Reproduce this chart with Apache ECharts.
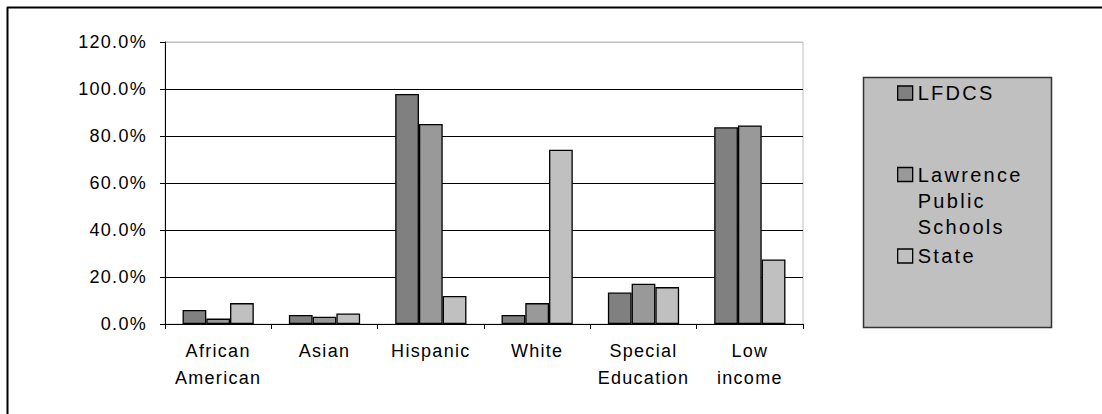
<!DOCTYPE html>
<html>
<head>
<meta charset="utf-8">
<script src="https://cdn.jsdelivr.net/npm/echarts@6/dist/echarts.min.js"></script>
<style>
  html, body { margin: 0; padding: 0; background: #fff; }
  #main { width: 1102px; height: 414px; letter-spacing: 1.3px; }
  #main text[style*="20px"] { letter-spacing: 2.3px; }
</style>
</head>
<body>
<div id="main"></div>
<script>
const categories = ['African\nAmerican', 'Asian', 'Hispanic', 'White', 'Special\nEducation', 'Low\nincome'];
const seriesNames = ['LFDCS', 'Lawrence Public Schools', 'State'];
const lfdcs = [6.0, 3.8, 97.9, 3.8, 13.4, 83.7];
const lawrence = [2.3, 3.1, 85.1, 8.9, 17.1, 84.5];
const state = [8.9, 4.5, 11.9, 74.2, 15.7, 27.5];
const yTicks = { min: 0, max: 120, interval: 20 };

const colors = ['#808080', '#999999', '#c0c0c0'];
const font = 'Liberation Sans, Arial, sans-serif';

const chart = echarts.init(document.getElementById('main'), null, { renderer: 'svg' });

function legendCfg(name, top, extra) {
  return Object.assign({
    data: [name],
    orient: 'vertical',
    left: 897,
    top: top,
    padding: 0,
    icon: 'rect',
    itemWidth: 15,
    itemHeight: 14,
    selectedMode: false,
    itemStyle: { borderColor: '#000', borderWidth: 1.3 },
    textStyle: { fontFamily: font, fontSize: 20, color: '#000', lineHeight: 26 }
  }, extra || {});
}

chart.setOption({
  animation: false,
  color: colors,
  textStyle: { fontFamily: font },
  grid: { left: 165, right: 299, top: 42, bottom: 90, show: true, borderColor: '#c0c0c0', borderWidth: 1, backgroundColor: 'transparent' },
  graphic: [
    { type: 'rect', z: -10, shape: { x: 863.5, y: 77.5, width: 188, height: 250 }, style: { fill: '#c0c0c0', stroke: '#333', lineWidth: 1.5 } },
    { type: 'line', shape: { x1: 7, y1: 7.5, x2: 1102, y2: 7.5 }, style: { stroke: '#000', lineWidth: 2 } },
    { type: 'line', shape: { x1: 7.5, y1: 7, x2: 7.5, y2: 414 }, style: { stroke: '#000', lineWidth: 2 } }
  ],
  legend: [
    legendCfg(seriesNames[0], 80),
    legendCfg(seriesNames[1], 109.5, {
      formatter: () => '\n\nLawrence\nPublic\nSchools'
    }),
    legendCfg(seriesNames[2], 243)
  ],
  xAxis: {
    type: 'category',
    data: categories,
    boundaryGap: true,
    axisLine: { lineStyle: { color: '#000', width: 1 } },
    axisTick: { show: true, length: 5, inside: false, lineStyle: { color: '#000' } },
    axisLabel: { interval: 0, color: '#000', fontSize: 18, lineHeight: 27, margin: 13, fontFamily: font }
  },
  yAxis: {
    type: 'value',
    min: yTicks.min,
    max: yTicks.max,
    interval: yTicks.interval,
    axisLine: { show: true, lineStyle: { color: '#000', width: 1 } },
    axisTick: { show: true, length: 5, lineStyle: { color: '#000' } },
    axisLabel: { color: '#000', fontSize: 18, margin: 18, fontFamily: font, formatter: v => v.toFixed(1) + '%' },
    splitLine: { show: true, lineStyle: { color: ['#000', '#000', '#000', '#000', '#000', '#000', '#c0c0c0'], width: 1 } }
  },
  series: [lfdcs, lawrence, state].map((d, i) => ({
    name: seriesNames[i],
    type: 'bar',
    data: d,
    barGap: '0%',
    barCategoryGap: '33%',
    itemStyle: { color: colors[i], borderColor: '#000', borderWidth: 1.3 }
  }))
});
</script>
</body>
</html>
